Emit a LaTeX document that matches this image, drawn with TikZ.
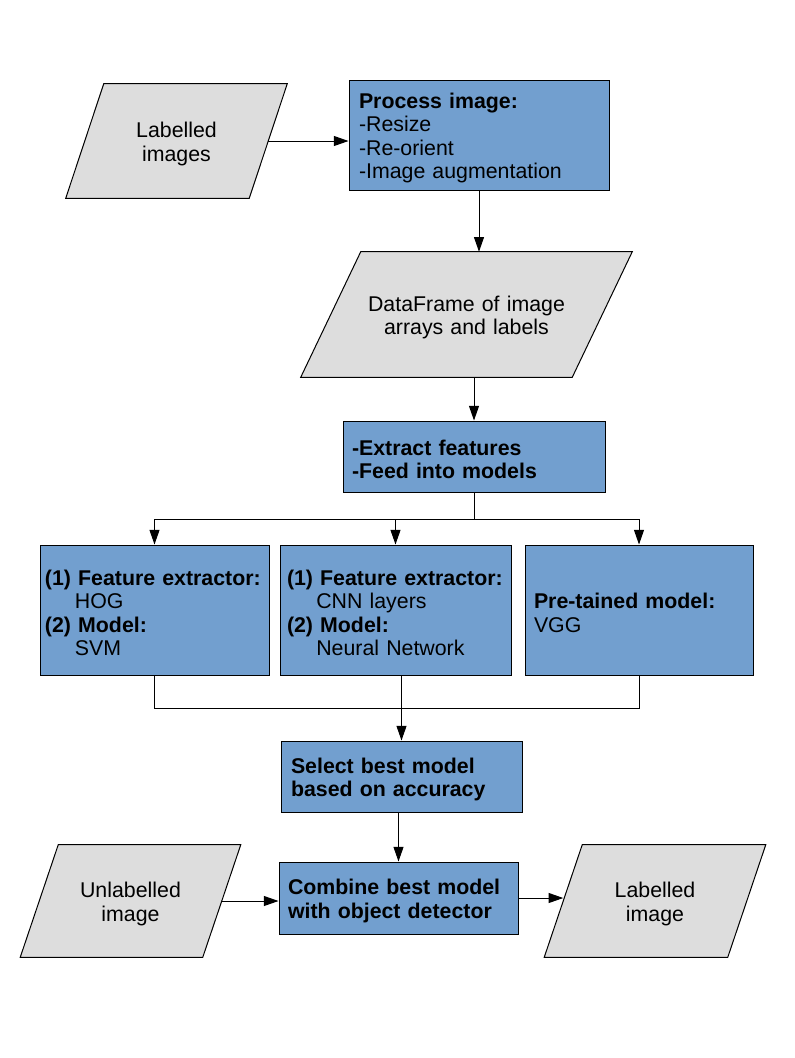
\documentclass[tikz,border=0pt]{standalone}
\usepackage{fontspec}
\setmainfont{Liberation Sans}
\usetikzlibrary{arrows.meta,backgrounds,calc}
\definecolor{boxblue}{HTML}{729FCF}
\definecolor{paragray}{HTML}{DDDDDD}
\newcommand\tpad{\rule{0pt}{16pt}}
\begin{document}
\begin{tikzpicture}[x=0.75pt,y=-0.75pt,
  every node/.style={font=\fontsize{16}{17.6}\selectfont},
  box/.style={draw=black, fill=boxblue, line width=0.75pt, align=left, inner ysep=0pt, anchor=center},
  datain/.style={draw=none, align=center, inner sep=0pt, anchor=center},
  para/.style={draw=black, fill=paragray, line width=0.75pt},
  conn/.style={line width=0.75pt},
  arr/.style={conn, -{Triangle[length=11pt,width=7.5pt]}},
]
\begin{scope}[on background layer]
  \fill[white] (0,0) rectangle (794,1058);
\end{scope}
\useasboundingbox (0,0) rectangle (794,1058);

% data (parallelogram) nodes
\node[datain, text width=137.25pt, minimum height=85.5pt] (li) at (176.5,141) {\tpad Labelled\\images};
\node[datain, text width=203.25pt, minimum height=93.75pt] (df) at (466.5,314.5) {\tpad DataFrame of image\\arrays and labels};
\node[datain, text width=136.5pt, minimum height=84pt] (unl) at (130.5,901) {\tpad Unlabelled\\image};
\node[datain, text width=137.25pt, minimum height=84pt] (lim) at (655,901) {\tpad Labelled\\image};

\begin{scope}[on background layer]
  \draw[para] ([xshift=14.25pt]li.north west) -- ([xshift=14.25pt]li.north east) -- ([xshift=-14.25pt]li.south east) -- ([xshift=-14.25pt]li.south west) -- cycle;
  \draw[para] ([xshift=22.5pt]df.north west) -- ([xshift=22.5pt]df.north east) -- ([xshift=-22.5pt]df.south east) -- ([xshift=-22.5pt]df.south west) -- cycle;
  \draw[para] ([xshift=14.25pt]unl.north west) -- ([xshift=14.25pt]unl.north east) -- ([xshift=-14.25pt]unl.south east) -- ([xshift=-14.25pt]unl.south west) -- cycle;
  \draw[para] ([xshift=14.25pt]lim.north west) -- ([xshift=14.25pt]lim.north east) -- ([xshift=-14.25pt]lim.south east) -- ([xshift=-14.25pt]lim.south west) -- cycle;
\end{scope}

% process boxes
\node[box, text width=180pt, inner xsep=7.5pt, minimum height=82.5pt] (proc) at (479,135)
  {\tpad\textbf{Process image:}\\-Resize\\-Re-orient\\-Image augmentation};
\node[box, text width=183pt, inner xsep=6.75pt, minimum height=53.25pt] (ext) at (474,456.5)
  {\tpad\textbf{-Extract features}\\\textbf{-Feed into models}};
\node[box, text width=164.25pt, inner xsep=3.75pt, minimum height=97.5pt] (b1) at (154.5,610)
  {\tpad\textbf{(1) Feature extractor:}\\\hspace*{22.5pt}HOG\\\textbf{(2) Model:}\\\hspace*{22.5pt}SVM};
\node[box, text width=162.75pt, inner xsep=5.25pt, minimum height=97.5pt] (b2) at (395.5,610)
  {\tpad\textbf{(1) Feature extractor:}\\\hspace*{22pt}CNN layers\\\textbf{(2) Model:}\\\hspace*{22pt}Neural Network};
\node[box, text width=157.5pt, inner xsep=6.75pt, minimum height=97.5pt] (b3) at (639,610)
  {\tpad\textbf{Pre-tained model:}\\VGG};
\node[box, text width=165.75pt, inner xsep=7.5pt, minimum height=53.25pt] (sel) at (401.5,776.5)
  {\tpad\textbf{Select best model}\\\textbf{based on accuracy}};
\node[box, text width=165.75pt, inner xsep=6.75pt, minimum height=54pt] (comb) at (398.5,898)
  {\tpad\textbf{Combine best model}\\\textbf{with object detector}};

% connectors
\draw[arr] (li.east) -- (proc.west |- li.east);
\draw[arr] (proc.south) -- (proc.south |- df.north);
\draw[arr] (df.south -| ext.north) -- (ext.north);
\coordinate (sp) at ($(ext.south)+(0,27)$);
\draw[conn] (ext.south) -- (sp);
\draw[arr] (sp) -| (b1.north);
\draw[arr] (sp) -| (b2.north);
\draw[arr] (sp) -| (b3.north);
\coordinate (jn) at ($(b1.south)+(0,33)$);
\draw[conn] (b1.south) -- (jn) -| (b3.south);
\draw[arr] (b2.south -| sel.north) -- (sel.north);
\draw[arr] (sel.south -| comb.north) -- (comb.north);
\draw[arr] (unl.east) -- (comb.west |- unl.east);
\draw[arr] (comb.east) -- (comb.east -| lim.west);
\end{tikzpicture}
\end{document}
